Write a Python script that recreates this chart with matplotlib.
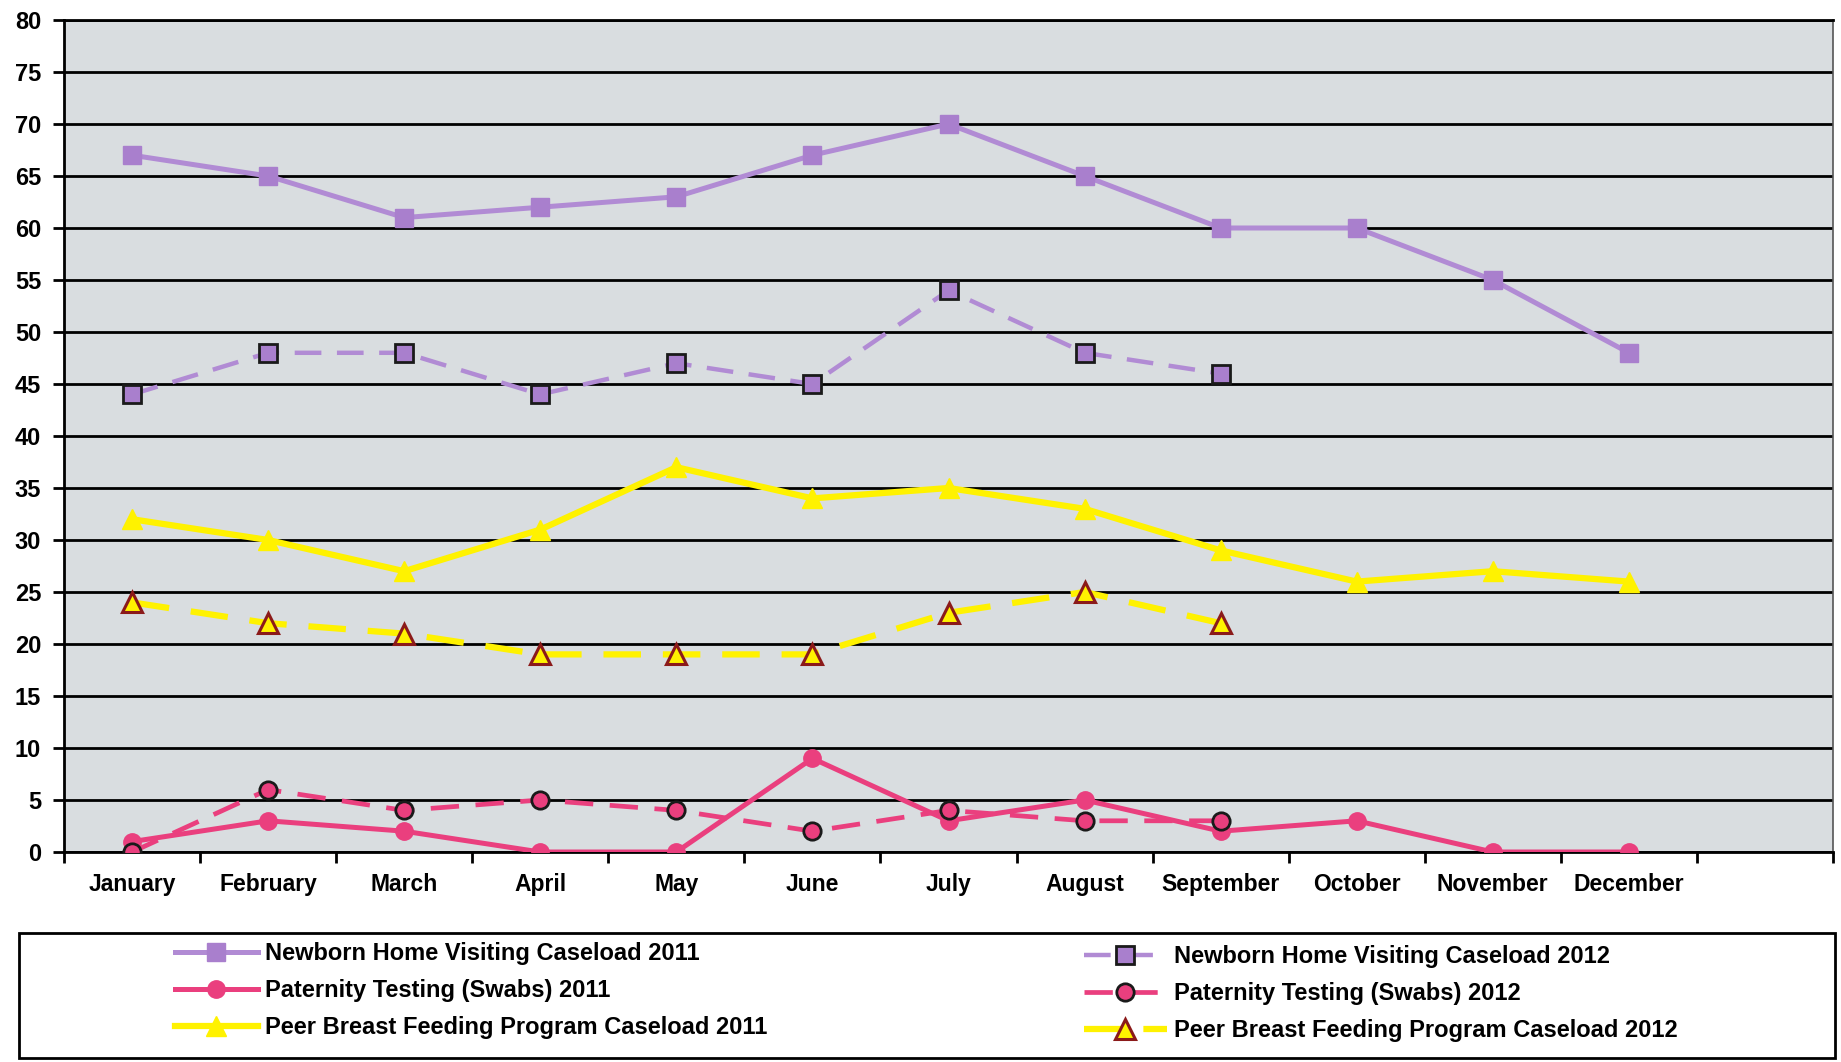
import numpy as np
import matplotlib.pyplot as plt
from matplotlib.patches import Rectangle

plt.rcParams['font.family'] = ['Liberation Sans', 'DejaVu Sans']
plt.rcParams['font.weight'] = 'bold'

months = ['January', 'February', 'March', 'April', 'May', 'June', 'July',
          'August', 'September', 'October', 'November', 'December']

newborn_2011 = [67, 65, 61, 62, 63, 67, 70, 65, 60, 60, 55, 48]
newborn_2012 = [44, 48, 48, 44, 47, 45, 54, 48, 46]
paternity_2011 = [1, 3, 2, 0, 0, 9, 3, 5, 2, 3, 0, 0]
paternity_2012 = [0, 6, 4, 5, 4, 2, 4, 3, 3]
breastfeed_2011 = [32, 30, 27, 31, 37, 34, 35, 33, 29, 26, 27, 26]
breastfeed_2012 = [24, 22, 21, 19, 19, 19, 23, 25, 22]

labels_2011 = ['Newborn Home Visiting Caseload 2011',
               'Paternity Testing (Swabs) 2011',
               'Peer Breast Feeding Program Caseload 2011']
labels_2012 = ['Newborn Home Visiting Caseload 2012',
               'Paternity Testing (Swabs) 2012',
               'Peer Breast Feeding Program Caseload 2012']

purple = '#b18bd4'
pink = '#ea3f7e'
yellow = '#fff200'

W, H = 1841, 1062
fig = plt.figure(figsize=(W / 100, H / 100), dpi=100)
ax = fig.add_axes([64 / W, 1 - 852 / H, (1833 - 64) / W, (852 - 20) / H])
ax.set_facecolor('#d9dde0')

x12 = np.arange(12)
x9 = np.arange(9)

dash = (6, 3.5)
l1, = ax.plot(x12, newborn_2011, color=purple, lw=3.6, marker='s', ms=13.5,
              mfc='#a97fcd', mec='#a97fcd', zorder=4)
l2, = ax.plot(x9, newborn_2012, color=purple, lw=3.2, ls=(0, dash), marker='s',
              ms=13.5, mfc='#a97fcd', mec='#1a1a1a', mew=2, zorder=4)
l3, = ax.plot(x12, paternity_2011, color=pink, lw=3.6, marker='o', ms=12.5,
              mfc=pink, mec=pink, zorder=5)
l4, = ax.plot(x9, paternity_2012, color=pink, lw=3.4, ls=(0, dash), marker='o',
              ms=12.5, mfc=pink, mec='#1a1a1a', mew=2, zorder=5)
l5, = ax.plot(x12, breastfeed_2011, color=yellow, lw=4.5, marker='^', ms=15,
              mfc=yellow, mec=yellow, zorder=4)
l6, = ax.plot(x9, breastfeed_2012, color=yellow, lw=4.5, ls=(0, dash), marker='^',
              ms=14, mfc=yellow, mec='#8b1a1a', mew=2.2, zorder=4)

ax.set_xlim(-0.5, 12.5)
ax.set_ylim(0, 80)
ax.set_yticks(np.arange(0, 81, 5))
ax.yaxis.grid(True, color='black', lw=2)
ax.set_axisbelow(True)

ax.set_xticks(np.arange(-0.5, 13, 1))
ax.set_xticklabels([])
ax.set_xticks(x12, minor=True)
ax.set_xticklabels(months, minor=True)
ax.tick_params(axis='x', which='major', length=8, width=2, color='black', direction='out')
ax.tick_params(axis='x', which='minor', length=0, pad=15, labelsize=16.5)
ax.tick_params(axis='y', length=8, width=2, color='black', direction='out',
               pad=8.5, labelsize=17)

for s in ['left', 'bottom', 'top']:
    ax.spines[s].set_color('black')
    ax.spines[s].set_linewidth(2)
ax.spines['right'].set_color('#555555')
ax.spines['right'].set_linewidth(1.2)

# legend box
fig.patches.append(Rectangle((19 / W, 1 - 1058 / H), (1835 - 19) / W, (1058 - 933) / H,
                             transform=fig.transFigure, fill=False, ec='black', lw=2))

leg_kw = dict(loc='upper left', frameon=False, borderpad=0, borderaxespad=0,
              handlelength=3.5, handletextpad=0.3, labelspacing=0.6,
              prop={'size': 17, 'weight': 'bold'})
leg1 = fig.legend([l1, l3, l5], labels_2011, bbox_to_anchor=(175 / W, 1 - 942 / H), **leg_kw)
leg2 = fig.legend([l2, l4, l6], labels_2012, bbox_to_anchor=(1084 / W, 1 - 945 / H), **leg_kw)

fig.savefig('out.png', dpi=100)
